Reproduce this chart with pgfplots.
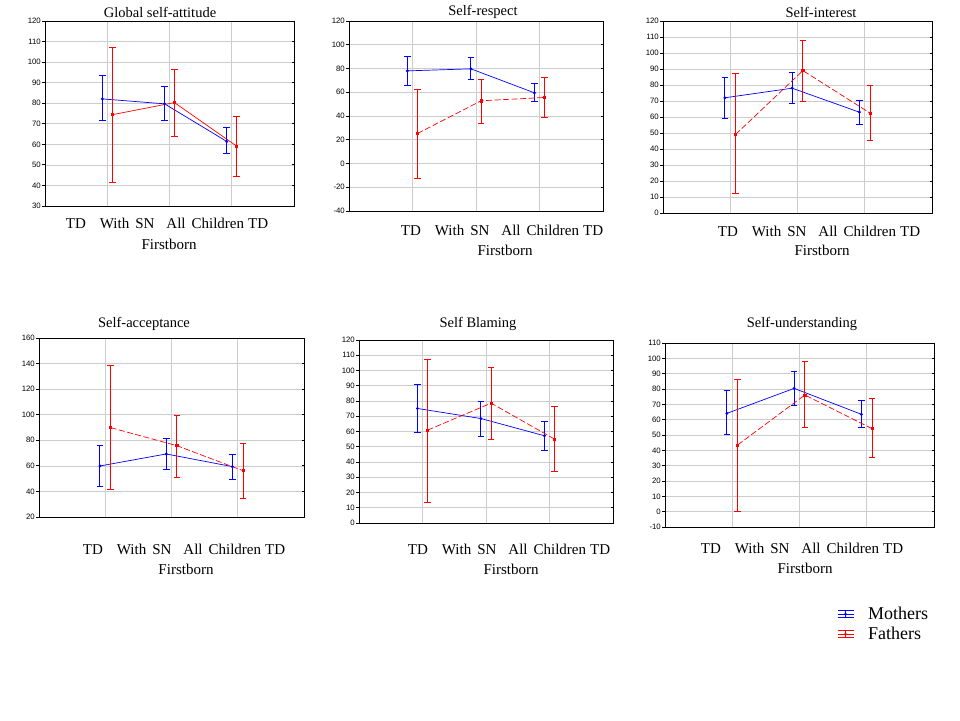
\documentclass[border=0pt]{standalone}
\usepackage{fontspec}
\setmainfont{Liberation Serif}
\newfontfamily\ticksf{Liberation Sans}
\usepackage{pgfplots}
\usepackage{pgfplotstable}
\pgfplotsset{compat=1.18}

% Panel 1: Global self-attitude
\pgfplotstableread{
x y ep em
0.92 82.1 11.4 10.5
1.92 79.7 8.4 8.1
2.92 61.4 6.8 6.1
}\MomA
\pgfplotstableread{
x y ep em
1.08 74.4 32.5 32.9
2.08 80.3 16.1 16.5
3.08 59.1 14.3 14.7
}\DadA
% Panel 2: Self-respect
\pgfplotstableread{
x y ep em
0.92 78.0 11.7 12.4
1.92 79.7 9.2 9.0
2.92 59.5 7.8 7.3
}\MomB
\pgfplotstableread{
x y ep em
1.08 25.3 36.7 37.8
2.08 52.8 17.6 19.1
3.08 55.6 16.8 16.9
}\DadB
% Panel 3: Self-interest
\pgfplotstableread{
x y ep em
0.92 72.0 12.7 12.7
1.92 78.0 10.0 9.4
2.92 63.0 7.5 7.5
}\MomC
\pgfplotstableread{
x y ep em
1.08 49.1 38.3 37.2
2.08 89.0 18.9 19.1
3.08 62.4 17.3 16.9
}\DadC
% Panel 4: Self-acceptance
\pgfplotstableread{
x y ep em
0.92 59.9 15.9 15.9
1.92 69.3 12.0 12.3
2.92 59.4 9.1 10.2
}\MomD
\pgfplotstableread{
x y ep em
1.08 89.9 48.5 48.5
2.08 75.8 23.4 24.8
3.08 56.2 21.2 21.9
}\DadD
% Panel 5: Self Blaming
\pgfplotstableread{
x y ep em
0.92 75.1 15.7 15.5
1.92 68.5 11.4 11.6
2.92 57.2 9.3 9.4
}\MomE
\pgfplotstableread{
x y ep em
1.08 60.9 46.5 47.2
2.08 78.6 23.3 23.6
3.08 55.0 21.6 21.0
}\DadE
% Panel 6: Self-understanding
\pgfplotstableread{
x y ep em
0.92 64.1 14.6 14.1
1.92 80.4 11.1 11.1
2.92 63.5 9.3 8.3
}\MomF
\pgfplotstableread{
x y ep em
1.08 43.5 43.0 43.5
2.08 76.1 21.9 21.5
3.08 54.1 19.4 19.1
}\DadF

\pgfplotsset{
  panel/.style={scale only axis, anchor=south west, xmin=0, xmax=4,
    xtick={1,2,3}, xticklabels={}, xtick style={draw=none},
    ytick pos=left, tick align=outside, major tick length=3pt,
    grid=major, major grid style={draw=black!20, line width=0.7pt},
    axis line style={line width=0.8pt},
    y tick style={line width=0.8pt, black},
    yticklabel style={font=\ticksf\fontsize{7.8}{9}\selectfont, inner sep=1pt},
    /pgf/number format/assume math mode=true, clip=false},
  rt/.style={scale only axis, anchor=south west, xmin=0, xmax=4, xtick=\empty,
    ytick pos=right, tick align=inside, major tick length=2.5pt,
    yticklabels={}, axis line style={draw=none},
    y tick style={line width=0.8pt, black}},
  ebar/.style={error bars/y dir=both, error bars/y explicit,
    error bars/error bar style={solid, line width=1pt, #1},
    error bars/error mark options={solid, rotate=90, mark size=3.3pt, line width=1pt, #1}},
  mom/.style={blue, line width=0.7pt, mark=*, mark size=1.1pt, mark options={solid}, ebar=blue},
  dad/.style={red, line width=0.7pt, mark=square*, mark size=1.1pt, mark options={solid}, ebar=red},
  rdash/.style={dash pattern=on 6pt off 2.5pt},
}
\newcommand{\lab}{TD\hspace{14pt}With\hspace{6pt}SN\hspace{12pt}All\hspace{6pt}Children\hspace{4pt}TD}
\newcommand{\tf}{\fontsize{14.5}{17}\selectfont}
\newcommand{\lf}{\fontsize{15}{17}\selectfont}

\begin{document}
\begin{tikzpicture}
\useasboundingbox (0,0) rectangle (960pt,720pt);

% ---------- Panel 1
\begin{axis}[panel, at={(45pt,514pt)}, width=249pt, height=185pt, ymin=30, ymax=120, ytick distance=10]
\addplot[mom] table[x=x, y=y, y error plus=ep, y error minus=em] {\MomA};
\addplot[dad] table[x=x, y=y, y error plus=ep, y error minus=em] {\DadA};
\end{axis}
\begin{axis}[rt, at={(45pt,514pt)}, width=249pt, height=185pt, ymin=30, ymax=120, ytick distance=10]
\end{axis}
\node[font=\tf] at (160pt,708pt) {Global self-attitude};
\node[font=\lf] at (167pt,497pt) {\lab};
\node[font=\lf] at (169pt,476pt) {Firstborn};

% ---------- Panel 2
\begin{axis}[panel, at={(349pt,509pt)}, width=254pt, height=190pt, ymin=-40, ymax=120, ytick distance=20]
\addplot[mom] table[x=x, y=y, y error plus=ep, y error minus=em] {\MomB};
\addplot[dad, rdash] table[x=x, y=y, y error plus=ep, y error minus=em] {\DadB};
\end{axis}
\begin{axis}[rt, at={(349pt,509pt)}, width=254pt, height=190pt, ymin=-40, ymax=120, ytick distance=20]
\end{axis}
\node[font=\tf] at (483pt,708pt) {Self-respect};
\node[font=\lf] at (502pt,490pt) {\lab};
\node[font=\lf] at (505pt,470pt) {Firstborn};

% ---------- Panel 3
\begin{axis}[panel, at={(663pt,507pt)}, width=269pt, height=192pt, ymin=0, ymax=120, ytick distance=10]
\addplot[mom] table[x=x, y=y, y error plus=ep, y error minus=em] {\MomC};
\addplot[dad, rdash] table[x=x, y=y, y error plus=ep, y error minus=em] {\DadC};
\end{axis}
\begin{axis}[rt, at={(663pt,507pt)}, width=269pt, height=192pt, ymin=0, ymax=120, ytick distance=10]
\end{axis}
\node[font=\tf] at (821pt,708pt) {Self-interest};
\node[font=\lf] at (819pt,489pt) {\lab};
\node[font=\lf] at (822pt,470pt) {Firstborn};

% ---------- Panel 4
\begin{axis}[panel, at={(39pt,203pt)}, width=265pt, height=179pt, ymin=20, ymax=160, ytick distance=20]
\addplot[mom] table[x=x, y=y, y error plus=ep, y error minus=em] {\MomD};
\addplot[dad, rdash] table[x=x, y=y, y error plus=ep, y error minus=em] {\DadD};
\end{axis}
\begin{axis}[rt, at={(39pt,203pt)}, width=265pt, height=179pt, ymin=20, ymax=160, ytick distance=20]
\end{axis}
\node[font=\tf] at (144pt,396pt) {Self-acceptance};
\node[font=\lf] at (184pt,171pt) {\lab};
\node[font=\lf] at (186pt,151pt) {Firstborn};

% ---------- Panel 5
\begin{axis}[panel, at={(359pt,197pt)}, width=254pt, height=183pt, ymin=0, ymax=120, ytick distance=10]
\addplot[mom] table[x=x, y=y, y error plus=ep, y error minus=em] {\MomE};
\addplot[dad, rdash] table[x=x, y=y, y error plus=ep, y error minus=em] {\DadE};
\end{axis}
\begin{axis}[rt, at={(359pt,197pt)}, width=254pt, height=183pt, ymin=0, ymax=120, ytick distance=10]
\end{axis}
\node[font=\tf] at (478pt,396pt) {Self Blaming};
\node[font=\lf] at (509pt,171pt) {\lab};
\node[font=\lf] at (511pt,151pt) {Firstborn};

% ---------- Panel 6
\begin{axis}[panel, at={(665pt,193pt)}, width=269pt, height=184pt, ymin=-10, ymax=110, ytick distance=10,
  legend image code/.code={
    \draw[solid, line width=1pt] (0pt,0pt) -- (16pt,0pt);
    \draw[solid, line width=1pt] (0pt,3.4pt) -- (16pt,3.4pt);
    \draw[solid, line width=1pt] (0pt,-3.4pt) -- (16pt,-3.4pt);
    \draw[solid, line width=1pt] (8pt,-3.4pt) -- (8pt,3.4pt);
    \fill (8pt,0pt) circle (1.1pt);
  },
  legend style={at={(0.639,-0.435)}, anchor=north west, draw=none, fill=none,
    font=\fontsize{18}{20}\selectfont, column sep=14pt, row sep=6pt, inner sep=0pt,
    nodes={inner sep=0pt}},
  legend cell align=left]
\addplot[mom] table[x=x, y=y, y error plus=ep, y error minus=em] {\MomF};
\addlegendentry{Mothers}
\addplot[dad, rdash] table[x=x, y=y, y error plus=ep, y error minus=em] {\DadF};
\addlegendentry{Fathers}
\end{axis}
\begin{axis}[rt, at={(665pt,193pt)}, width=269pt, height=184pt, ymin=-10, ymax=110, ytick distance=10]
\end{axis}
\node[font=\tf] at (802pt,396pt) {Self-understanding};
\node[font=\lf] at (802pt,172pt) {\lab};
\node[font=\lf] at (805pt,152pt) {Firstborn};

\end{tikzpicture}
\end{document}
